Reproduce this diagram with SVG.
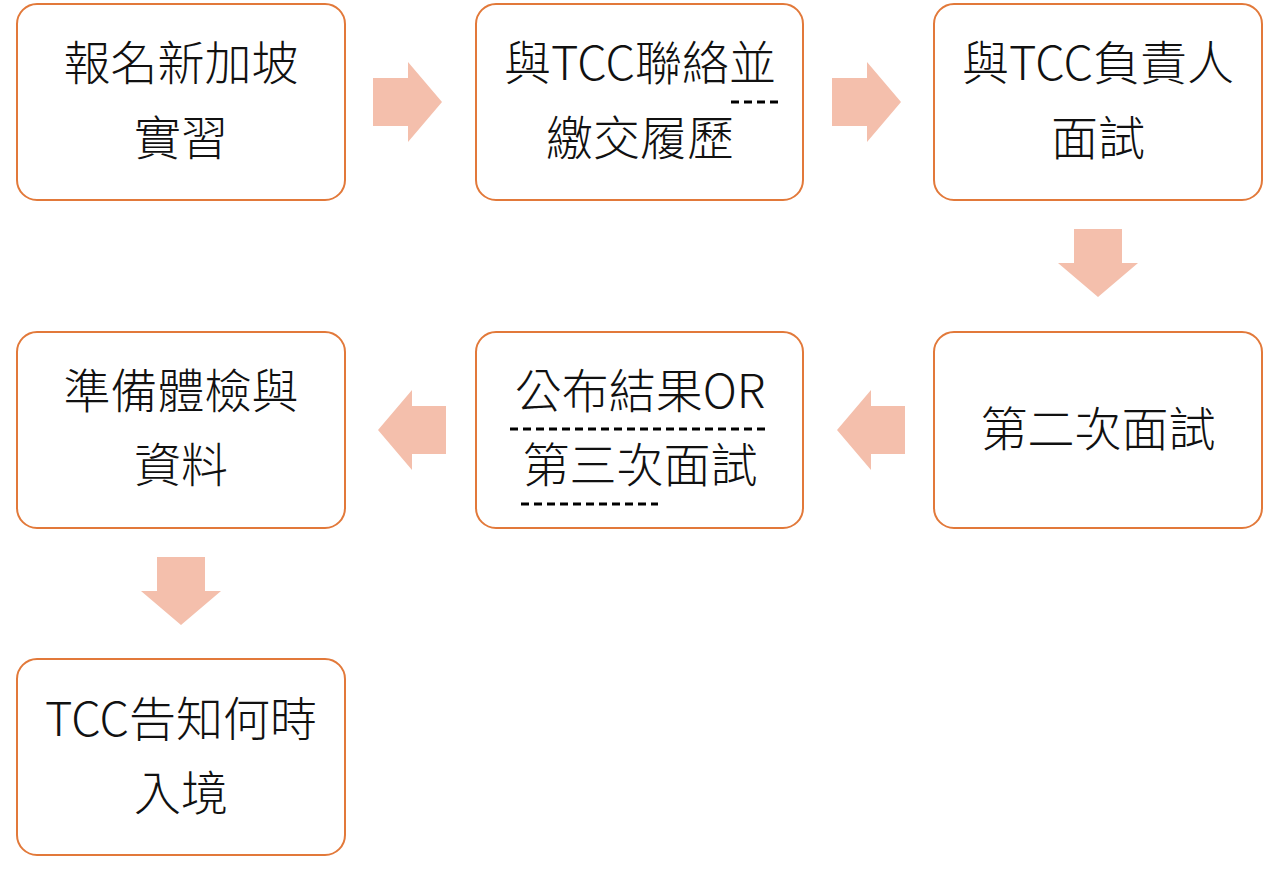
<svg xmlns="http://www.w3.org/2000/svg" width="1279" height="876" viewBox="0 0 1279 876">
<style>
.box{fill:#fff;stroke:#E2793A;stroke-width:2}
.t{font-family:"Noto Sans CJK TC","Noto Sans CJK SC",sans-serif;font-size:47px;fill:#111;text-anchor:middle;font-weight:300}
.arr{fill:#F4BFAC}
.dash{stroke:#000;stroke-width:3;stroke-dasharray:8 5;fill:none}
</style>
<rect width="1279" height="876" fill="#fff"/>
<g id="n1"><rect class="box" x="17" y="4" width="328" height="196" rx="20"/><text class="t" x="181" y="80">報名新加坡</text><text class="t" x="181" y="155">實習</text></g>
<g id="n2"><rect class="box" x="476" y="4" width="327" height="196" rx="20"/><text class="t" x="640" y="80">與TCC聯絡並</text><text class="t" x="640" y="155">繳交履歷</text><line class="dash" x1="731" y1="102" x2="779" y2="102"/></g>
<g id="n3"><rect class="box" x="934" y="4" width="328" height="196" rx="20"/><text class="t" x="1098" y="80">與TCC負責人</text><text class="t" x="1098" y="155">面試</text></g>
<g id="n4"><rect class="box" x="934" y="332" width="328" height="196" rx="20"/><text class="t" x="1098" y="446">第二次面試</text></g>
<g id="n5"><rect class="box" x="476" y="332" width="327" height="196" rx="20"/><text class="t" x="640" y="408">公布結果OR</text><text class="t" x="640" y="482">第三次面試</text><line class="dash" x1="510" y1="429" x2="769" y2="429"/><line class="dash" x1="521" y1="504" x2="658" y2="504"/></g>
<g id="n6"><rect class="box" x="17" y="332" width="328" height="196" rx="20"/><text class="t" x="181" y="408">準備體檢與</text><text class="t" x="181" y="482">資料</text></g>
<g id="n7"><rect class="box" x="17" y="659" width="328" height="196" rx="20"/><text class="t" x="181" y="736">TCC告知何時</text><text class="t" x="181" y="810">入境</text></g>
<g id="connectors">
<polygon class="arr" points="373,78 408,78 408,62 442,102 408,142 408,126 373,126"/>
<polygon class="arr" points="832,78 867,78 867,62 901,102 867,142 867,126 832,126"/>
<polygon class="arr" points="1074,229 1122,229 1122,263 1138,263 1098,297 1058,263 1074,263"/>
<polygon class="arr" points="905,406 871,406 871,390 837,430 871,470 871,454 905,454"/>
<polygon class="arr" points="446,406 412,406 412,390 378,430 412,470 412,454 446,454"/>
<polygon class="arr" points="157,557 205,557 205,591 221,591 181,625 141,591 157,591"/>
</g>
</svg>
